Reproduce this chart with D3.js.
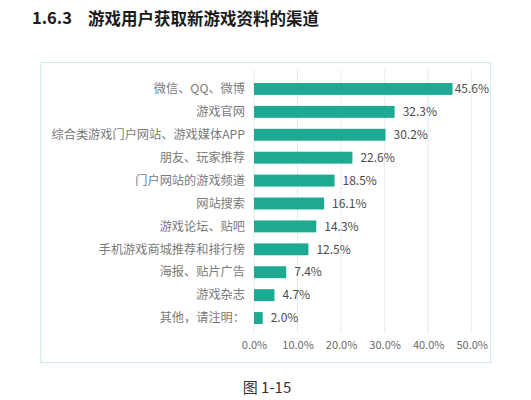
<!DOCTYPE html>
<html>
<head>
<meta charset="utf-8">
<script src="https://cdn.jsdelivr.net/npm/d3@7"></script>
<style>
  html, body { margin: 0; padding: 0; background: #fff; }
  text { font-family: "Noto Sans CJK SC", "Noto Sans", sans-serif; }
</style>
</head>
<body>
<svg id="chart" width="531" height="400"></svg>
<script>
const titleNum = "1.6.3";
const titleText = "游戏用户获取新游戏资料的渠道";
const captionText = "图 1-15";
const categories = [
  "微信、QQ、微博",
  "游戏官网",
  "综合类游戏门户网站、游戏媒体APP",
  "朋友、玩家推荐",
  "门户网站的游戏频道",
  "网站搜索",
  "游戏论坛、贴吧",
  "手机游戏商城推荐和排行榜",
  "海报、贴片广告",
  "游戏杂志",
  "其他，请注明："
];
const values = [0.456, 0.323, 0.302, 0.226, 0.185, 0.161, 0.143, 0.125, 0.074, 0.047, 0.020];
const tickValues = [0, 0.1, 0.2, 0.3, 0.4, 0.5];

const svg = d3.select("#chart");
svg.append("rect").attr("width", 531).attr("height", 400).attr("fill", "#fff");

// title
svg.append("text")
  .attr("x", 32).attr("y", 24)
  .attr("font-size", 16.5).attr("font-weight", "bold").attr("fill", "#1a1a1a")
  .text(titleNum);
svg.append("text")
  .attr("x", 88).attr("y", 24.5)
  .attr("font-size", 16.5).attr("font-weight", "bold").attr("fill", "#1a1a1a")
  .text(titleText);

// frame
svg.append("rect")
  .attr("x", 40.5).attr("y", 62.5).attr("width", 450).attr("height", 300)
  .attr("fill", "none").attr("stroke", "#d6ebe8").attr("stroke-width", 1.2);

const x = d3.scaleLinear().domain([0, 0.5]).range([254, 471.7]);
const y = d3.scaleBand().domain(categories).range([72, 335]).paddingInner(0.48).paddingOuter(0.48);

// gridlines
svg.append("g").selectAll("line").data(tickValues).join("line")
  .attr("x1", d => x(d)).attr("x2", d => x(d))
  .attr("y1", 70).attr("y2", 333)
  .attr("stroke", "#e3ecec").attr("stroke-width", 1);

// bars
svg.append("g").selectAll("rect").data(values).join("rect")
  .attr("x", x(0))
  .attr("y", (d, i) => y(categories[i]))
  .attr("width", d => x(d) - x(0))
  .attr("height", y.bandwidth())
  .attr("fill", "#1eaa92");

// category labels
svg.append("g").selectAll("text").data(categories).join("text")
  .attr("x", 245)
  .attr("y", d => y(d) + y.bandwidth() / 2)
  .attr("dy", "0.35em")
  .attr("text-anchor", "end")
  .attr("font-size", 12.2).attr("fill", "#7a7a7a")
  .text(d => d);

// value labels
const fmt = d3.format(".1%");
svg.append("g").selectAll("text").data(values).join("text")
  .attr("y", (d, i) => y(categories[i]) + y.bandwidth() / 2)
  .attr("dy", "0.35em")
  .attr("font-size", 12).attr("fill", "#4d4d4d")
  .text(d => fmt(d))
  .each(function(d) {
    const w = this.getComputedTextLength();
    const pos = Math.min(x(d) + 8, 489 - w);
    d3.select(this).attr("x", Math.max(pos, x(d) + 1));
  });

// x axis
const axis = d3.axisBottom(x).tickValues(tickValues).tickFormat(d3.format(".1%")).tickSize(0).tickPadding(0);
const gAxis = svg.append("g").attr("transform", "translate(0,341)").call(axis);
gAxis.select(".domain").remove();
gAxis.selectAll("text").attr("font-size", 11).attr("fill", "#6a6a6a")
  .attr("font-family", "\"Noto Sans CJK SC\", \"Noto Sans\", sans-serif");

// caption
svg.append("text")
  .attr("x", 267).attr("y", 393)
  .attr("text-anchor", "middle")
  .attr("font-size", 15).attr("fill", "#333")
  .text(captionText);
</script>
</body>
</html>
